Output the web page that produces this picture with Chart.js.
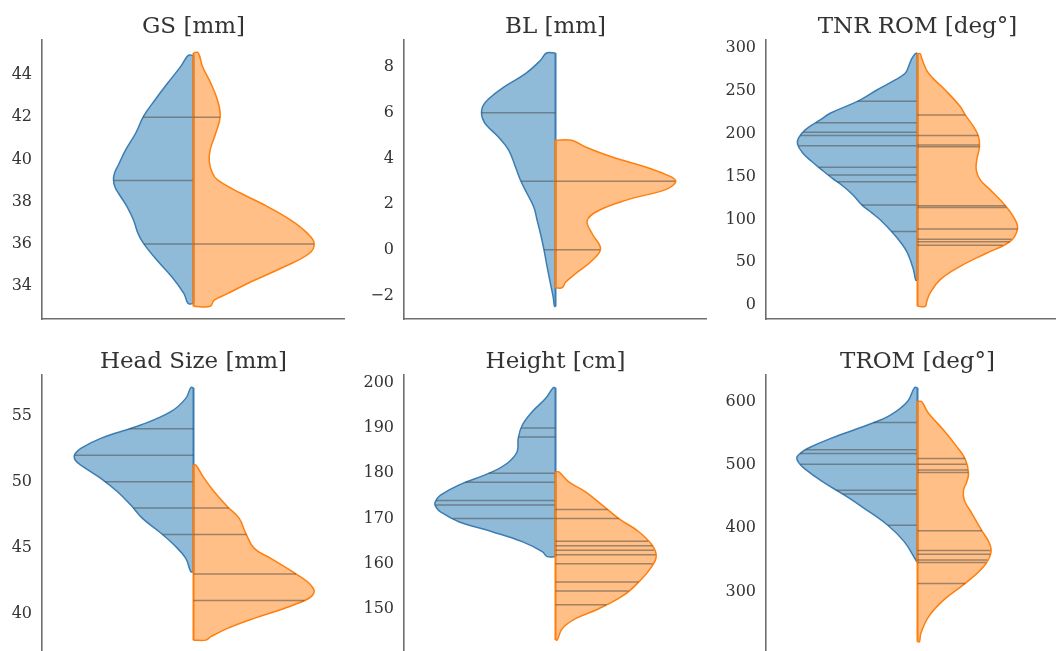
<!DOCTYPE html>
<html>
<head>
<meta charset="utf-8">
<script src="https://cdn.jsdelivr.net/npm/chart.js@4.4.0/dist/chart.umd.min.js"></script>
<style>
  html, body { margin: 0; padding: 0; background: #fff; overflow: hidden; }
  body { width: 1056px; height: 651px; position: relative; }
  canvas { position: absolute; }
</style>
</head>
<body>
<canvas id="gs" width="345" height="323" style="left:0px;top:0px"></canvas>
<canvas id="bl" width="345" height="323" style="left:362px;top:0px"></canvas>
<canvas id="tnr" width="345" height="323" style="left:724px;top:0px"></canvas>
<canvas id="head" width="345" height="323" style="left:0px;top:335px"></canvas>
<canvas id="height" width="345" height="323" style="left:362px;top:335px"></canvas>
<canvas id="trom" width="345" height="323" style="left:724px;top:335px"></canvas>
<script>
// --- Data ---
// violin outlines: [value, density width] from top to bottom
// sticks: single observations

const gsTicks = [34, 36, 38, 40, 42, 44];
const gsBlue = [[44.92,5.3],[44.4,12.7],[43.6,26],[42.8,38.7],[42.04,50],[41.25,57.7],[40.46,67.7],[39.75,75],[39.35,79],[39.03,80],[38.7,78.5],[38.4,75],[37.77,66.5],[37.13,60],[36.5,55.5],[36.03,50],[35.23,36.5],[34.44,21.5],[33.65,9.5],[33.18,5.3]];
const gsOrange = [[45.04,4.7],[44.4,9],[43.6,17.3],[42.8,24],[42.04,26.7],[41.25,22.3],[40.46,16.7],[39.9,15.8],[39.4,18.5],[39.03,24],[38.4,47.3],[37.77,74],[37.13,97.3],[36.5,114],[36.03,120.7],[35.55,115.7],[34.92,90.7],[34.13,54],[33.65,34],[33.34,20.7],[33.05,16.7]];
const gsBlueSticks = [42, 39, 36];
const gsOrangeSticks = [42, 36];

const blTicks = [-2, 0, 2, 4, 6, 8];
const blBlue = [[8.61,9],[8.29,15],[7.71,30],[7.12,51.7],[6.6,67],[6.3,72.5],[6.03,74],[5.75,73],[5.45,69],[4.93,57],[4.35,46.7],[3.62,40],[3.04,35],[2.45,28.3],[1.87,21.7],[1.28,18.3],[0.7,15],[0.04,11.7],[-0.76,8.3],[-1.49,5],[-2.07,2.3],[-2.48,1]];
const blOrange = [[4.79,16],[4.5,30],[4.06,56.7],[3.62,90],[3.3,110],[3.04,120],[2.8,117],[2.6,108],[2.16,70],[1.72,43.3],[1.28,31.7],[0.7,36.7],[0.04,45],[-0.47,36.7],[-1.05,20],[-1.42,10],[-1.66,6.7]];
const blBlueSticks = [6, 3, 0];
const blOrangeSticks = [3, 0];

const tnrTicks = [0, 50, 100, 150, 200, 250, 300];
const tnrBlue = [[294,2],[288,5.7],[278.5,9],[270.8,12.3],[263,22.3],[251.3,40.6],[238.5,59],[224.1,87.3],[216.3,97.3],[205,112],[195,119],[188,120],[178,115],[168,106],[158,95.7],[148,85],[138.5,74],[128,64],[117.1,55.7],[108,46],[99.6,37.3],[85.6,25.7],[72,16],[60.8,10],[41.3,4],[29,1.7]];
const tnrOrange = [[293.6,2.7],[288,4.3],[270.8,11],[251.3,27.7],[231.9,42.7],[222.2,47.7],[208.6,56],[197,61],[185.2,62],[169.7,59.3],[158,58.7],[146.3,62.7],[134.6,72.7],[116.4,87.7],[99.6,97.7],[88.8,100],[74.4,92.7],[60.8,69.3],[45.2,42.7],[29.7,22.7],[14.2,12.7],[4.4,9.3],[-1.5,7.7]];
const tnrBlueSticks = [238, 213, 202, 198, 186, 161, 152, 144, 117, 86];
const tnrOrangeSticks = [222, 198, 187, 185, 116, 114, 89, 77, 74, 70];

const headTicks = [40, 45, 50, 55];
const headBlue = [[57.12,2.7],[56.31,7.7],[55.3,22.7],[54.29,52.7],[53.28,92.7],[52.53,112.7],[52.15,118],[51.9,119.3],[51.6,118],[51.26,112.7],[50.25,92.7],[49.24,76],[48.23,62.7],[47.22,51],[46.21,34.3],[45.2,19.3],[44.19,7.7],[43.18,2.7]];
const headOrange = [[51.26,2.3],[50.25,10.7],[49.24,20.7],[48.1,34],[47.22,45.7],[46.09,52.3],[44.95,60.7],[44.19,77.3],[43.18,99],[42.42,114],[41.95,119.5],[41.67,120.7],[41.35,118.5],[41.04,112.3],[40.4,90.7],[39.65,60.7],[38.89,34],[38.26,17.3],[38.0,12.3]];
const headBlueSticks = [54, 52, 50, 48, 46];
const headOrangeSticks = [48, 46, 43, 41];

const heightTicks = [150, 160, 170, 180, 190, 200];
const heightBlue = [[198.9,2.3],[196.5,10],[193.6,23.3],[190.6,33.3],[187.7,37.3],[184.8,38.3],[182.5,46.7],[180.3,63.3],[177.4,96.7],[175.2,115],[174.2,119],[173.3,120.7],[172.4,119],[171.5,115],[169.3,96.7],[167.1,63.3],[164.9,33.3],[162.7,13.3],[161.6,8.3]];
const heightOrange = [[180.3,3.3],[178.1,13.3],[175.9,30],[172.97,46.7],[170,63.3],[167.1,83.3],[164.1,96.7],[161.6,100.7],[159,95],[156,83.3],[153.1,68.3],[150.1,43.3],[147.9,20],[145.7,6.7],[143.2,1.7]];
const heightBlueSticks = [190, 188, 180, 178, 174, 173, 170];
const heightOrangeSticks = [172, 170, 165, 164, 163, 162, 160, 156, 154, 151];

const tromTicks = [300, 400, 500, 600];
const tromBlue = [[622,3],[600,10],[579,26.7],[563,50],[542,86.7],[526,110],[518,117.5],[511.6,120.7],[504,119],[494.7,113.3],[473.7,95],[452.6,73.3],[431.6,53.3],[405.3,30],[379,13.3],[352.6,2.7],[347.4,0.7]];
const tromOrange = [[600,4],[581.6,11],[555.3,26],[529,39.3],[509.5,47.7],[486.9,51],[472,49],[460.5,46],[444.7,46.7],[423.7,54.3],[396.3,64.3],[376.3,72],[360.5,73.3],[339.3,66],[313,47.7],[286.7,26],[260.3,11],[234,3.3],[221,2]];
const tromBlueSticks = [567, 524, 518, 501, 460, 454, 405];
const tromOrangeSticks = [510, 501, 492, 488, 396, 365, 359, 350, 346, 313];

// --- Styles ---
const BLUE_FILL = 'rgba(31, 119, 180, 0.5)';
const BLUE_EDGE = '#3b7db3';
const ORANGE_FILL = 'rgba(255, 127, 14, 0.5)';
const ORANGE_EDGE = '#ff7f0e';
const STICK = 'rgba(70, 70, 70, 0.5)';
const SPINE = '#6e6e6e';
const TEXT = '#333333';
const FONT = '"DejaVu Serif", serif';
const HALF = 151.5; // half width of each panel, same unit as density widths

const panels = [
    { id: 'gs', title: 'GS [mm]', min: 32.45, max: 45.65, ticks: gsTicks,
      blue: gsBlue, orange: gsOrange, blueSticks: gsBlueSticks, orangeSticks: gsOrangeSticks },
    { id: 'bl', title: 'BL [mm]', min: -3.03, max: 9.18, ticks: blTicks,
      blue: blBlue, orange: blOrange, blueSticks: blBlueSticks, orangeSticks: blOrangeSticks },
    { id: 'tnr', title: 'TNR ROM [deg°]', min: -16.3, max: 309.7, ticks: tnrTicks,
      blue: tnrBlue, orange: tnrOrange, blueSticks: tnrBlueSticks, orangeSticks: tnrOrangeSticks },
    { id: 'head', title: 'Head Size [mm]', min: 36.95, max: 58.08, ticks: headTicks,
      blue: headBlue, orange: headOrange, blueSticks: headBlueSticks, orangeSticks: headOrangeSticks },
    { id: 'height', title: 'Height [cm]', min: 140.1, max: 201.7, ticks: heightTicks,
      blue: heightBlue, orange: heightOrange, blueSticks: heightBlueSticks, orangeSticks: heightOrangeSticks },
    { id: 'trom', title: 'TROM [deg°]', min: 201.6, max: 642, ticks: tromTicks,
      blue: tromBlue, orange: tromOrange, blueSticks: tromBlueSticks, orangeSticks: tromOrangeSticks },
];

// open outline of one half (sign -1 = left, +1 = right); 'shape' fill closes it along the centre
function outline(profile, sign) {
    const top = profile[0][0];
    const bottom = profile[profile.length - 1][0];
    const pts = [{ x: 0, y: top }];
    profile.forEach(([v, w]) => pts.push({ x: sign * w, y: v }));
    pts.push({ x: 0, y: bottom });
    return pts;
}

function centre(profile) {
    return [{ x: 0, y: profile[0][0] }, { x: 0, y: profile[profile.length - 1][0] }];
}

// width of the outline at value v (sticks run out to the edge)
function widthAt(profile, v) {
    for (let i = 0; i < profile.length - 1; i++) {
        const [v0, w0] = profile[i];
        const [v1, w1] = profile[i + 1];
        if (v <= v0 && v >= v1) {
            return w0 + (w1 - w0) * (v0 - v) / (v0 - v1);
        }
    }
    return 0;
}

function sticks(values, profile, sign) {
    const pts = [];
    values.forEach((v) => {
        pts.push({ x: 0, y: v });
        pts.push({ x: sign * widthAt(profile, v), y: v });
        pts.push({ x: null, y: null });
    });
    return pts;
}

const panelTitle = {
    id: 'panelTitle',
    afterDraw(chart, args, opts) {
        const { ctx, chartArea } = chart;
        ctx.save();
        ctx.font = '23px ' + FONT;
        ctx.fillStyle = TEXT;
        ctx.textAlign = 'center';
        ctx.textBaseline = 'alphabetic';
        ctx.fillText(opts.text, (chartArea.left + chartArea.right) / 2, chartArea.top - 7);
        ctx.restore();
    }
};

function renderPanel(p) {
    const ctx = document.getElementById(p.id);
    const shape = {
        pointRadius: 0,
        borderWidth: 1.5,
        fill: 'shape',
        tension: 0.4,
    };
    const straight = {
        pointRadius: 0,
        borderWidth: 1.5,
        fill: false,
        tension: 0,
        spanGaps: false,
    };
    new Chart(ctx, {
        type: 'line',
        data: {
            datasets: [
                { ...straight, data: sticks(p.orangeSticks, p.orange, 1), borderColor: STICK, order: 1 },
                { ...straight, data: centre(p.orange), borderColor: ORANGE_EDGE, borderWidth: 2, order: 2 },
                { ...shape, data: outline(p.orange, 1), backgroundColor: ORANGE_FILL, borderColor: ORANGE_EDGE, order: 3 },
                { ...straight, data: sticks(p.blueSticks, p.blue, -1), borderColor: STICK, order: 4 },
                { ...straight, data: centre(p.blue), borderColor: BLUE_EDGE, borderWidth: 2, order: 5 },
                { ...shape, data: outline(p.blue, -1), backgroundColor: BLUE_FILL, borderColor: BLUE_EDGE, order: 6 },
            ]
        },
        plugins: [panelTitle],
        options: {
            responsive: false,
            animation: false,
            layout: { padding: { top: 40, bottom: 4, left: 0, right: 0 } },
            plugins: {
                legend: { display: false },
                tooltip: { enabled: false },
                panelTitle: { text: p.title },
            },
            scales: {
                x: {
                    type: 'linear',
                    min: -HALF,
                    max: HALF,
                    ticks: { display: false },
                    grid: { display: false },
                    border: { display: true, color: SPINE, width: 1.6 },
                    afterFit: (scale) => {
                        scale.height = 0;
                        scale.paddingLeft = 0;
                        scale.paddingRight = 0;
                    },
                },
                y: {
                    type: 'linear',
                    min: p.min,
                    max: p.max,
                    grid: { display: false, drawTicks: false },
                    border: { display: true, color: SPINE, width: 1.6 },
                    ticks: {
                        padding: 10,
                        color: TEXT,
                        font: { family: FONT, size: 16 },
                        callback: (v) => (v < 0 ? '\u2212' + Math.abs(v) : String(v)),
                    },
                    afterBuildTicks: (scale) => { scale.ticks = p.ticks.map((v) => ({ value: v })); },
                    afterFit: (scale) => {
                        scale.width = 42;
                        scale.paddingTop = 0;
                        scale.paddingBottom = 0;
                    },
                }
            }
        }
    });
}

panels.forEach(renderPanel);
</script>
</body>
</html>
